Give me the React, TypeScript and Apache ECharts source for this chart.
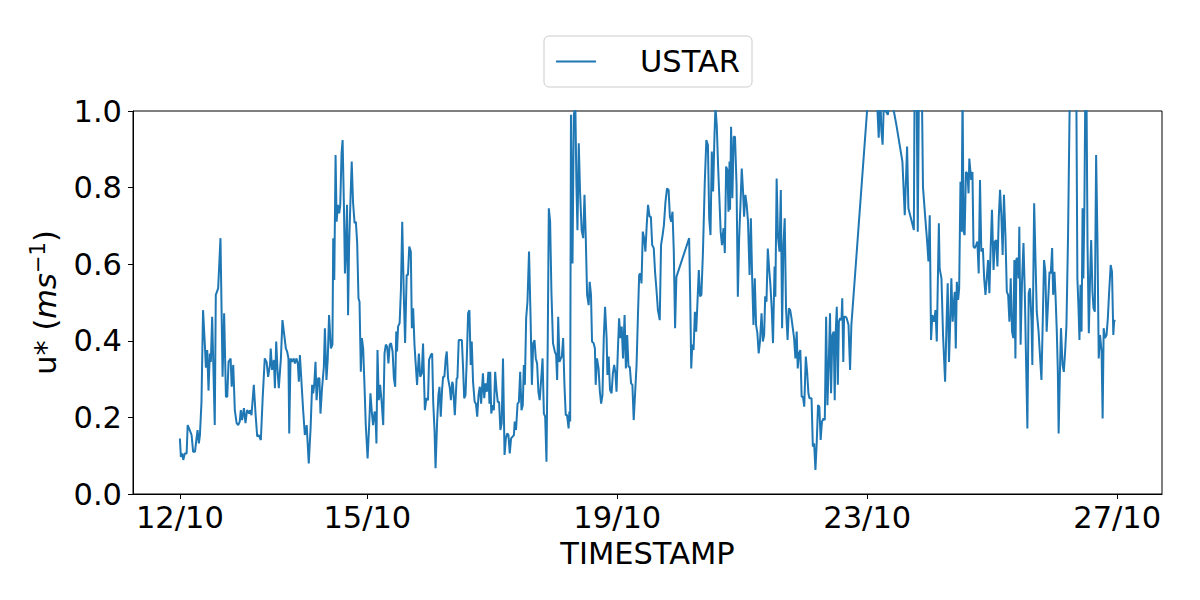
import React, { useEffect, useRef } from "react";
import * as echarts from "echarts";

// Hours since 12/10 00:00, u* (m s^-1)
const oct12to14: [number, number][] = [
  [0.0,0.145],[0.4,0.097],[0.9,0.106],[1.3,0.089],[1.9,0.106],[2.6,0.106],[3.0,0.18],[3.8,0.167],[4.5,0.154],[5.1,0.11],[5.8,0.11],[6.4,0.145],[6.8,0.167],[7.3,0.132],[7.7,0.154],[8.3,0.24],[8.9,0.48],[9.6,0.39],[10.0,0.33],[10.5,0.376],[11.0,0.27],[11.5,0.367],[11.9,0.345],[12.4,0.463],[13.4,0.18],[13.8,0.52],[14.7,0.537],[15.6,0.668],[16.4,0.306],[17.0,0.472],[17.7,0.254],[18.2,0.254],[18.7,0.345],[19.5,0.354],[19.9,0.28],[20.5,0.337],[21.1,0.219],[21.8,0.185],[22.4,0.18],[23.0,0.189],[23.4,0.219],[23.9,0.193],[24.6,0.224],[25.2,0.185],[25.8,0.219],[26.6,0.21],[26.9,0.219],[27.5,0.206],[28.4,0.285],[29.1,0.206],[29.7,0.15],[30.3,0.154],[31.1,0.141],[31.8,0.25],[32.6,0.354],[33.3,0.345],[33.9,0.306],[34.6,0.337],[34.9,0.38],[35.4,0.324],[36.1,0.35],[36.5,0.276],[37.0,0.398],[37.5,0.324],[38.0,0.276],[38.8,0.354],[39.4,0.454],[40.1,0.415],[40.7,0.38],[41.2,0.372],[41.7,0.354],[42.0,0.158],[42.5,0.354],[43.1,0.345],[43.7,0.354],[44.2,0.341],[44.8,0.354],[45.3,0.341],[45.7,0.293],[46.1,0.363],[46.7,0.293],[47.3,0.224],[48.0,0.154],[48.7,0.18],[49.5,0.08],[50.2,0.171],[50.8,0.285],[51.2,0.263],[51.6,0.285],[52.1,0.345],[52.5,0.245],[53.1,0.302],[53.6,0.302],[54.0,0.21],[54.6,0.276],[55.3,0.332],[55.7,0.433],[56.3,0.298],[56.8,0.354],[57.3,0.467],
];
const oct14to17: [number, number][] = [
  [58.0,0.38],[58.6,0.39],[58.9,0.668],[59.3,0.559],[59.8,0.885],[60.2,0.711],[60.7,0.755],[61.2,0.733],[61.6,0.755],[62.1,0.89],[62.5,0.924],[63.0,0.755],[63.4,0.576],[63.7,0.62],[64.2,0.755],[64.6,0.467],[65.0,0.65],[65.5,0.763],[66.0,0.868],[66.5,0.763],[67.1,0.707],[67.6,0.711],[68.1,0.655],[68.6,0.511],[69.0,0.502],[69.5,0.319],[69.9,0.407],[70.4,0.38],[70.9,0.285],[71.4,0.18],[72.1,0.093],[72.7,0.18],[73.2,0.263],[73.7,0.215],[74.2,0.18],[74.8,0.215],[75.1,0.21],[75.5,0.132],[75.9,0.376],[76.4,0.245],[76.9,0.285],[77.5,0.24],[78.1,0.18],[78.6,0.367],[79.1,0.39],[79.6,0.385],[80.1,0.341],[80.6,0.39],[81.1,0.394],[81.7,0.372],[82.2,0.302],[82.7,0.28],[83.1,0.424],[83.4,0.372],[83.8,0.437],[84.4,0.446],[84.9,0.533],[85.4,0.711],[86.0,0.52],[86.5,0.394],[87.1,0.572],[87.6,0.572],[88.1,0.646],
  [88.7,0.633],[89.1,0.433],[89.6,0.485],[90.1,0.39],[90.6,0.337],[91.1,0.285],[91.8,0.367],[92.3,0.306],[92.9,0.315],[93.4,0.393],[94.1,0.219],[94.7,0.25],[95.3,0.245],[95.7,0.35],[96.4,0.363],[96.9,0.367],[97.3,0.24],[97.8,0.167],[98.2,0.067],[98.8,0.189],[99.3,0.258],[99.7,0.28],[100.2,0.202],[100.7,0.272],[101.1,0.306],[101.6,0.306],[102.1,0.354],[102.5,0.372],[103.0,0.302],[103.7,0.276],[104.1,0.245],[104.6,0.293],[104.9,0.285],[105.6,0.206],[106.3,0.302],[106.6,0.302],[107.1,0.402],[107.8,0.402],[108.3,0.402],[108.8,0.324],[109.2,0.25],[109.7,0.258],[110.2,0.354],[110.7,0.472],[111.2,0.48],[111.7,0.337],[112.1,0.398],[112.6,0.293],[113.2,0.241],[113.7,0.236],[114.2,0.202],[114.7,0.258],[115.2,0.28],[115.7,0.236],[116.4,0.315],[116.9,0.25],[117.4,0.289],[117.9,0.267],[118.5,0.319],[118.9,0.236],
];
const oct17to20: [number, number][] = [
  [119.2,0.319],[119.6,0.21],[120.1,0.232],[120.6,0.219],[121.1,0.319],[121.6,0.272],[122.1,0.24],[122.6,0.24],[123.1,0.167],[123.6,0.185],[124.1,0.354],[124.7,0.102],[125.2,0.145],[125.7,0.158],[126.2,0.154],[126.7,0.106],[127.2,0.145],[127.8,0.15],[128.3,0.154],[128.6,0.189],[129.1,0.167],[129.7,0.236],[130.2,0.24],[130.7,0.319],[131.2,0.219],[131.7,0.232],[132.1,0.337],[132.5,0.285],[133.0,0.459],[133.5,0.502],[134.1,0.633],[134.7,0.459],[135.2,0.285],[135.7,0.394],[136.2,0.402],[136.7,0.354],[137.2,0.341],[137.7,0.267],[138.2,0.245],[138.7,0.293],[139.3,0.354],[139.8,0.21],[140.3,0.202],[140.8,0.084],[141.3,0.407],[141.7,0.746],[142.2,0.711],[142.7,0.528],[143.3,0.394],[144.0,0.372],[144.5,0.363],[144.9,0.298],[145.3,0.463],[145.8,0.345],[146.3,0.354],[146.7,0.359],[147.2,0.407],[147.7,0.285],[148.2,0.206],[148.7,0.206],[149.3,0.171],[149.6,0.215],
  [149.9,0.189],[150.2,0.99],[150.8,0.602],[151.3,0.99],[151.9,1.01],[152.3,0.807],[152.7,0.689],[153.2,0.916],[153.7,0.789],[154.3,0.689],[154.9,0.668],[155.4,0.781],[155.9,0.668],[156.4,0.52],[157.0,0.493],[157.4,0.554],[157.9,0.52],[158.3,0.398],[158.9,0.394],[159.4,0.38],[159.7,0.285],[160.2,0.354],[160.8,0.328],[161.3,0.267],[161.8,0.236],[162.3,0.258],[162.8,0.407],[163.3,0.489],[163.9,0.407],[164.2,0.311],[164.7,0.359],[165.2,0.272],[165.8,0.263],[166.3,0.315],[166.8,0.337],[167.3,0.315],[167.7,0.267],[168.2,0.372],[168.7,0.459],[169.2,0.407],[169.7,0.437],[170.2,0.354],[170.8,0.467],[171.3,0.328],[171.8,0.415],[172.3,0.332],[172.8,0.332],[173.3,0.289],[173.8,0.285],[174.3,0.193],[174.8,0.258],[175.4,0.337],[175.9,0.459],[176.4,0.572],[176.9,0.576],[177.3,0.55],[177.8,0.685],[178.3,0.668],[178.8,0.633],[179.3,0.702],[179.8,0.755],[180.4,0.724],
  [180.9,0.724],[181.4,0.65],[182.0,0.642],[182.5,0.58],[183.1,0.528],[183.6,0.48],[184.3,0.454],[184.8,0.65],[185.4,0.676],[185.9,0.702],[186.5,0.763],[187.1,0.798],[187.7,0.794],[188.2,0.724],[188.7,0.711],[189.2,0.737],[189.7,0.633],[190.2,0.433],[190.7,0.567],
];
const oct20to23: [number, number][] = [
  [195.6,0.668],[196.0,0.516],[196.4,0.328],[196.8,0.39],[197.3,0.376],[197.8,0.476],[198.3,0.424],[198.8,0.502],[199.3,0.585],[199.8,0.516],[200.3,0.52],[200.9,0.633],[201.6,0.815],[202.2,0.924],[202.8,0.911],[203.3,0.72],[203.8,0.676],[204.3,0.894],[204.8,0.79],[205.3,0.93],[205.7,1.01],[206.2,0.963],[206.7,0.859],[207.2,0.772],[207.7,0.685],[208.2,0.65],[208.8,0.694],[209.3,0.629],[209.8,0.855],[210.3,0.846],[210.7,0.737],[211.1,0.868],
  [211.3,0.742],[211.7,0.959],[212.2,0.772],[212.7,0.933],[213.2,0.933],[213.8,0.807],[214.3,0.515],[214.8,0.668],[215.3,0.755],[215.8,0.85],[216.3,0.79],[216.7,0.724],[217.2,0.781],[217.7,0.755],[218.2,0.711],[218.8,0.572],[219.3,0.72],[219.8,0.563],[220.3,0.441],[220.8,0.563],[221.3,0.441],[221.8,0.42],[222.3,0.367],[222.8,0.398],[223.4,0.472],[223.9,0.398],[224.4,0.415],[224.8,0.516],[225.3,0.502],[225.8,0.641],[226.3,0.589],[226.8,0.546],[227.3,0.485],[227.8,0.394],[228.4,0.594],[228.7,0.515],[229.2,0.824],[229.7,0.672],[230.3,0.633],[230.8,0.794],[231.3,0.433],[231.8,0.65],[232.3,0.72],[232.8,0.485],[233.4,0.402],[233.9,0.485],[234.4,0.48],[234.9,0.459],[235.4,0.433],[235.9,0.407],[236.4,0.354],[236.9,0.424],[237.3,0.328],[237.8,0.367],[238.3,0.376],[238.8,0.254],[239.3,0.254],[239.8,0.228],[240.4,0.359],[240.9,0.319],[241.4,0.263],[241.8,0.25],
  [242.6,0.25],[243.1,0.124],[243.6,0.132],[244.1,0.063],[244.6,0.136],[245.1,0.232],[245.6,0.228],[246.1,0.141],[246.6,0.189],[247.2,0.197],[247.7,0.193],[248.2,0.463],[248.7,0.232],[249.2,0.337],[249.7,0.472],[250.1,0.263],[250.6,0.415],[251.1,0.424],[251.5,0.245],[251.9,0.424],[252.3,0.489],[252.7,0.285],[253.1,0.45],[253.6,0.459],[254.1,0.454],[254.4,0.511],[254.8,0.345],[255.1,0.463],[255.6,0.463],[256.1,0.459],[256.8,0.441],[257.4,0.324],[257.9,0.441],
];
const oct23to27: [number, number][] = [
  [265.0,1.1],[266.5,1.15],[267.6,1.05],[268.4,0.93],[269.0,1.05],[269.4,0.95],[269.9,0.912],[270.5,1.05],[271.1,1.0],[271.9,0.99],[272.6,1.03],[274.2,1.0],[275.2,0.963],[277.5,0.868],[278.4,0.728],[279.3,0.907],[279.8,0.746],[281.9,0.689],[282.2,1.1],[282.9,1.1],[283.4,0.685],[283.9,1.1],[284.9,1.1],[285.4,0.802],[286.2,0.728],[287.0,0.659],[287.5,0.607],[288.0,0.728],[288.5,0.402],[289.0,0.467],[289.7,0.45],[290.2,0.48],[290.7,0.398],[291.5,0.707],[291.8,0.589],[292.5,0.563],[293.1,0.415],[293.9,0.293],[294.5,0.459],[294.9,0.55],[295.4,0.345],[295.9,0.459],[296.3,0.563],[296.8,0.45],[297.2,0.493],[297.6,0.528],[298.0,0.38],[298.4,0.554],[298.9,0.507],[299.3,0.537],[299.8,0.815],[300.2,0.685],[300.6,1.05],[301.0,0.685],[301.4,0.676],[301.9,0.841],[302.5,0.837],[302.9,0.785],[303.2,0.876],
  [303.9,0.82],[304.4,0.841],[304.8,0.646],[305.3,0.642],[305.8,0.65],[306.3,0.659],[306.8,0.576],[307.3,0.82],[307.8,0.633],[308.4,0.642],[308.9,0.563],[309.4,0.52],[309.9,0.563],[310.4,0.611],[310.9,0.524],[311.4,0.642],[311.9,0.742],[312.5,0.585],[313.0,0.659],[313.5,0.663],[314.0,0.594],[314.5,0.72],[315.0,0.794],[315.5,0.728],[316.0,0.624],[316.5,0.781],[317.1,0.668],[317.6,0.528],[318.1,0.52],[318.6,0.45],[319.1,0.563],[319.6,0.424],[320.1,0.407],[320.5,0.611],[320.9,0.354],[321.3,0.615],[321.7,0.615],[322.1,0.563],[322.4,0.698],[322.9,0.39],[323.4,0.546],[324.0,0.655],[324.5,0.528],[325.0,0.345],[325.5,0.171],[326.0,0.524],[326.5,0.537],[327.1,0.45],[327.4,0.337],[328.1,0.759],[328.6,0.615],[329.1,0.476],[329.8,0.424],[330.4,0.354],[330.9,0.298],[331.4,0.45],[331.9,0.611],[332.4,0.58],[332.9,0.424],[333.4,0.493],[334.0,0.58],
  [334.5,0.576],[335.0,0.642],[335.4,0.52],[335.9,0.58],[336.3,0.52],[336.8,0.424],[337.2,0.319],[337.5,0.158],[338.0,0.319],[338.4,0.433],[339.0,0.337],[339.5,0.319],[340.0,0.372],[340.5,0.441],[341.1,0.668],[341.8,1.05],[342.9,1.2],[344.3,1.05],[344.7,0.563],[345.1,0.493],[345.5,0.402],[345.9,0.546],[346.3,0.424],[346.7,0.746],[347.0,0.563],[347.4,0.755],[347.8,1.1],[348.2,1.05],[348.6,0.65],[349.1,0.42],[349.6,0.572],[350.0,0.663],[350.5,0.528],[350.9,0.485],[351.4,0.476],[351.9,0.885],[352.4,0.668],[352.9,0.354],[353.4,0.415],[354.0,0.372],[354.4,0.197],[354.8,0.433],[355.3,0.407],[355.9,0.415],[356.4,0.459],[356.9,0.528],[357.5,0.598],[358.0,0.58],[358.5,0.415],[358.8,0.45],[359.2,0.454],
];

const tickHours = [0, 72, 168, 264, 360];
const tickLabels = ["12/10", "15/10", "19/10", "23/10", "27/10"];
const yTicks = [0, 0.2, 0.4, 0.6, 0.8, 1.0];

const FONT = "DejaVu Sans";
const FS = 30.5;

export default function App() {
  const ref = useRef<HTMLDivElement>(null);
  useEffect(() => {
    if (!ref.current) return;
    const chart = echarts.init(ref.current, undefined, { renderer: "svg" });
    const data = [...oct12to14, ...oct14to17, ...oct17to20, ...oct20to23, ...oct23to27];
    chart.setOption({
      animation: false,
      backgroundColor: "#ffffff",
      textStyle: { fontFamily: FONT },
      grid: {
        left: 133,
        right: 38,
        top: 111,
        bottom: 106,
        show: true,
        borderColor: "#000",
        borderWidth: 1,
        outerBoundsMode: "none",
      },
      legend: {
        left: 544,
        top: 36,
        padding: [10, 12, 10, 12],
        borderColor: "#cccccc",
        borderWidth: 1,
        borderRadius: 5,
        backgroundColor: "#ffffff",
        itemWidth: 40,
        itemHeight: 2,
        icon: "rect",
        textStyle: { fontSize: FS, fontFamily: FONT, color: "#000", padding: [0, 0, 0, 39] },
        data: ["USTAR"],
      },
      xAxis: {
        type: "value",
        min: -18,
        max: 377.2,
        name: "TIMESTAMP",
        nameLocation: "middle",
        nameGap: 40,
        nameTextStyle: { fontSize: FS, fontFamily: FONT, color: "#000" },
        axisLine: { show: true, onZero: false, lineStyle: { color: "#000", width: 1 } },
        axisTick: { show: true, length: 5, lineStyle: { color: "#000" }, customValues: tickHours },
        axisLabel: {
          fontSize: FS,
          fontFamily: FONT,
          color: "#000",
          margin: 8,
          customValues: tickHours,
          formatter: (v: number) => {
            const i = tickHours.findIndex((t) => Math.abs(t - v) < 1e-6);
            return i >= 0 ? tickLabels[i] : "";
          },
        },
        splitLine: { show: false },
      },
      yAxis: {
        type: "value",
        min: 0,
        max: 1,
        interval: 0.2,
        name: "{n|u* (}{i|ms}{s|−1}{n|)}",
        nameLocation: "middle",
        nameRotate: 90,
        nameGap: 70,
        nameTextStyle: {
          fontFamily: FONT,
          color: "#000",
          rich: {
            n: { fontSize: FS, fontFamily: FONT, color: "#000", lineHeight: 36 },
            i: { fontSize: FS, fontFamily: FONT, fontStyle: "italic", color: "#000", lineHeight: 36 },
            s: { fontSize: 21, fontFamily: FONT, color: "#000", verticalAlign: "top", lineHeight: 18 },
          },
        },
        axisLine: { show: true, onZero: false, lineStyle: { color: "#000", width: 1 } },
        axisTick: { show: true, length: 5, lineStyle: { color: "#000" } },
        axisLabel: {
          fontSize: FS,
          fontFamily: FONT,
          color: "#000",
          margin: 11,
          customValues: yTicks,
          formatter: (v: number) => v.toFixed(1),
        },
        splitLine: { show: false },
      },
      series: [
        {
          name: "USTAR",
          type: "line",
          data,
          showSymbol: false,
          symbol: "none",
          clip: true,
          lineStyle: { color: "#1f77b4", width: 2 },
          itemStyle: { color: "#1f77b4" },
        },
      ],
    });
    return () => chart.dispose();
  }, []);
  return (
    <div
      ref={ref}
      style={{ position: "absolute", left: 0, top: 0, width: 1200, height: 600 }}
    />
  );
}
